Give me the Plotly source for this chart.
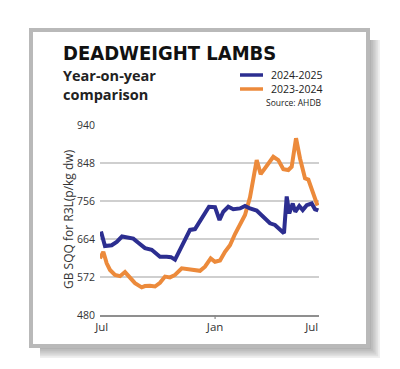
import plotly.graph_objects as go

# ---- data (x in weeks from start of July) ----
blue_weeks = [0.23, 1.16, 2.72, 3.89, 5.12, 6.59, 7.76, 8.92, 10.48, 12.04, 12.81, 13.97, 15.53,
              16.53, 17.47, 18.63, 19.79, 20.96, 22.12, 22.89, 24.06, 25.38, 26.78, 27.83, 28.71,
              29.88, 31.04, 32.60, 33.77, 34.93, 36.49, 38.03, 39.59, 40.75, 42.31, 42.85, 43.48,
              44.08, 44.88, 45.48, 46.41, 47.21, 48.14, 49.30, 50.07, 50.84]
blue_vals = [682, 647, 649, 657, 670, 667, 665, 655, 642, 638, 630, 621, 621,
             620, 614, 637, 660, 686, 688, 700, 720, 742, 741, 710, 730,
             742, 736, 738, 744, 738, 733, 718, 702, 698, 682, 678, 767,
             726, 750, 730, 744, 734, 746, 750, 736, 733]

orange_weeks = [0.0, 0.77, 1.56, 2.33, 3.49, 4.66, 5.82, 6.99, 8.15, 9.71, 10.48, 11.64, 12.81,
                13.97, 15.14, 16.30, 17.47, 19.03, 20.96, 23.29, 24.45, 25.78, 26.78, 27.95,
                29.11, 30.27, 31.44, 32.60, 33.77, 34.93, 36.49, 37.42, 38.82, 40.36, 41.52,
                42.69, 43.85, 44.64, 45.65, 46.58, 47.74, 48.52, 49.53, 50.65]
orange_vals = [617, 633, 605, 589, 577, 574, 584, 569, 557, 547, 550, 551, 549,
               558, 573, 571, 577, 593, 591, 587, 597, 617, 609, 612,
               633, 649, 676, 697, 722, 765, 855, 821, 843, 863, 855,
               833, 831, 839, 908, 859, 811, 808, 778, 745]

series_names = ["2024-2025", "2023-2024"]
y_ticks = [480, 572, 664, 756, 848, 940]
x_tick_pos = [0.4, 26.8, 49.3]
x_tick_labels = ["Jul", "Jan", "Jul"]

BLUE = "#2c2e90"
ORANGE = "#ec8a3b"
W, H = 400, 369
L, R, T, B = 100, 319, 125, 315  # plot area in px


def PX(x):
    return (x - L) / (R - L)


def PY(y):
    return (B - y) / (B - T)


fig = go.Figure()
fig.add_trace(go.Scatter(x=orange_weeks, y=orange_vals, mode="lines", name=series_names[1],
                         line=dict(color=ORANGE, width=4)))
fig.add_trace(go.Scatter(x=blue_weeks, y=blue_vals, mode="lines", name=series_names[0],
                         line=dict(color=BLUE, width=4)))

shapes = []
# drop shadow of the card (right and bottom)
for i in range(6):
    e = i * 1.8
    shapes.append(dict(type="rect", xref="paper", yref="paper", layer="below",
                       x0=PX(40), x1=PX(371 + e), y0=PY(349 + e), y1=PY(40),
                       fillcolor="rgba(100,100,100,0.10)", line=dict(width=0)))
# card with grey frame
shapes.append(dict(type="rect", xref="paper", yref="paper", layer="below",
                   x0=PX(31), x1=PX(368), y0=PY(346), y1=PY(30),
                   fillcolor="white", line=dict(color="#b9b9b9", width=4)))
# legend swatches
shapes.append(dict(type="line", xref="paper", yref="paper", x0=PX(240), x1=PX(263),
                   y0=PY(75), y1=PY(75), line=dict(color=BLUE, width=3.5)))
shapes.append(dict(type="line", xref="paper", yref="paper", x0=PX(240), x1=PX(263),
                   y0=PY(89), y1=PY(89), line=dict(color=ORANGE, width=3.5)))
# Jan tick mark
shapes.append(dict(type="line", xref="x", yref="paper", x0=x_tick_pos[1], x1=x_tick_pos[1],
                   y0=0, y1=PY(319), line=dict(color="#888888", width=1.2)))

leg_font = dict(family="Open Sans, sans-serif", size=10.5, color="#222222")
annotations = [
    dict(text="<b>DEADWEIGHT LAMBS</b>", x=PX(62), y=PY(53), xanchor="left", yanchor="middle",
         font=dict(family="Liberation Sans Narrow, DejaVu Sans Condensed, Arial Narrow, sans-serif",
                   size=20, color="#111111")),
    dict(text="<b>Year-on-year<br>comparison</b>", x=PX(62), y=PY(85), xanchor="left",
         yanchor="middle", align="left",
         font=dict(family="Open Sans, sans-serif", size=14.5, color="#222222")),
    dict(text=series_names[0], x=PX(323), y=PY(75), xanchor="right", yanchor="middle",
         font=leg_font),
    dict(text=series_names[1], x=PX(323), y=PY(89), xanchor="right", yanchor="middle",
         font=leg_font),
    dict(text="Source: AHDB", x=PX(323), y=PY(102.5), xanchor="right", yanchor="middle",
         font=dict(family="Open Sans, sans-serif", size=8.5, color="#222222")),
    dict(text="GB SQQ for R3L(p/kg dw)", x=PX(68), y=PY(219), xanchor="center", yanchor="middle",
         textangle=-90,
         font=dict(family="Open Sans, sans-serif", size=12, color="#333333")),
]
for a in annotations:
    a.setdefault("xref", "paper")
    a.setdefault("yref", "paper")
    a["showarrow"] = False
    a["borderpad"] = 0

fig.update_layout(
    width=W, height=H,
    margin=dict(l=L, r=W - R, t=T, b=H - B, pad=0),
    paper_bgcolor="white", plot_bgcolor="rgba(0,0,0,0)",
    showlegend=False,
    shapes=shapes, annotations=annotations,
    xaxis=dict(range=[0, 51], tickvals=x_tick_pos, ticktext=x_tick_labels, ticks="",
               showgrid=False, zeroline=False, showline=True, linecolor="#8f8f8f", linewidth=1.5,
               tickfont=dict(family="Open Sans, sans-serif", size=11.5, color="#333333"),
               ticklabelstandoff=0, fixedrange=True),
    yaxis=dict(range=[480, 940], tickvals=y_ticks, ticks="", showgrid=True,
               gridcolor="#cfcfcf", gridwidth=1.5, zeroline=False, showline=False,
               tickfont=dict(family="Open Sans, sans-serif", size=10.5, color="#333333"),
               ticklabelstandoff=4, fixedrange=True),
)

fig.write_html("out.html", post_script="document.body.style.margin='0';",
               config={"displayModeBar": False})
